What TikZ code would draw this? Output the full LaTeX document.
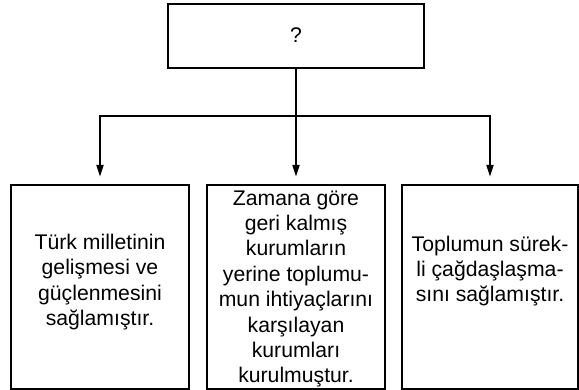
\documentclass[tikz,border=0pt]{standalone}
\usepackage{fontspec}
\setmainfont{Liberation Sans}
\usetikzlibrary{arrows.meta}
\begin{document}
\begin{tikzpicture}[x=1pt,y=-1pt,
  boxstyle/.style={draw, line width=2.4pt, inner sep=0pt},
  txt/.style={align=center, font=\fontsize{21.2}{25.4}\selectfont, inner sep=0pt},
  conn/.style={line width=2pt},
  arr/.style={conn, -{Triangle[length=12pt,width=7pt]}, shorten >=7pt}]
\useasboundingbox (0,0) rectangle (579,390);
\node[boxstyle, minimum width=256pt, minimum height=64pt] (top) at (296,36) {};
\node[txt] (q) at (296,35) {?};
\node[boxstyle, minimum width=178pt, minimum height=204pt] (bl) at (100,287) {};
\node[boxstyle, minimum width=178pt, minimum height=204pt] (bm) at (296,287) {};
\node[boxstyle, minimum width=176pt, minimum height=204pt] (br) at (490,287) {};
\node[txt] (tl) at (100,282) {Türk milletinin\\gelişmesi ve\\güçlenmesini\\sağlamıştır.};
\node[txt] (tm) at (296,289) {Zamana göre\\geri kalmış\\kurumların\\yerine toplumu-\\mun ihtiyaçlarını\\karşılayan\\kurumları\\kurulmuştur.};
\node[txt] (tr) at (490,271) {Toplumun sürek-\\li çağdaşlaşma-\\sını sağlamıştır.};
\coordinate (j) at (296,116);
\coordinate (jl) at (100,116);
\coordinate (jr) at (490,116);
\draw[conn] (top.south) -- (j);
\draw[conn, line cap=rect] (jl) -- (jr);
\draw[arr] (jl) -- (bl.north);
\draw[arr] (j) -- (bm.north);
\draw[arr] (jr) -- (br.north);
\end{tikzpicture}
\end{document}
